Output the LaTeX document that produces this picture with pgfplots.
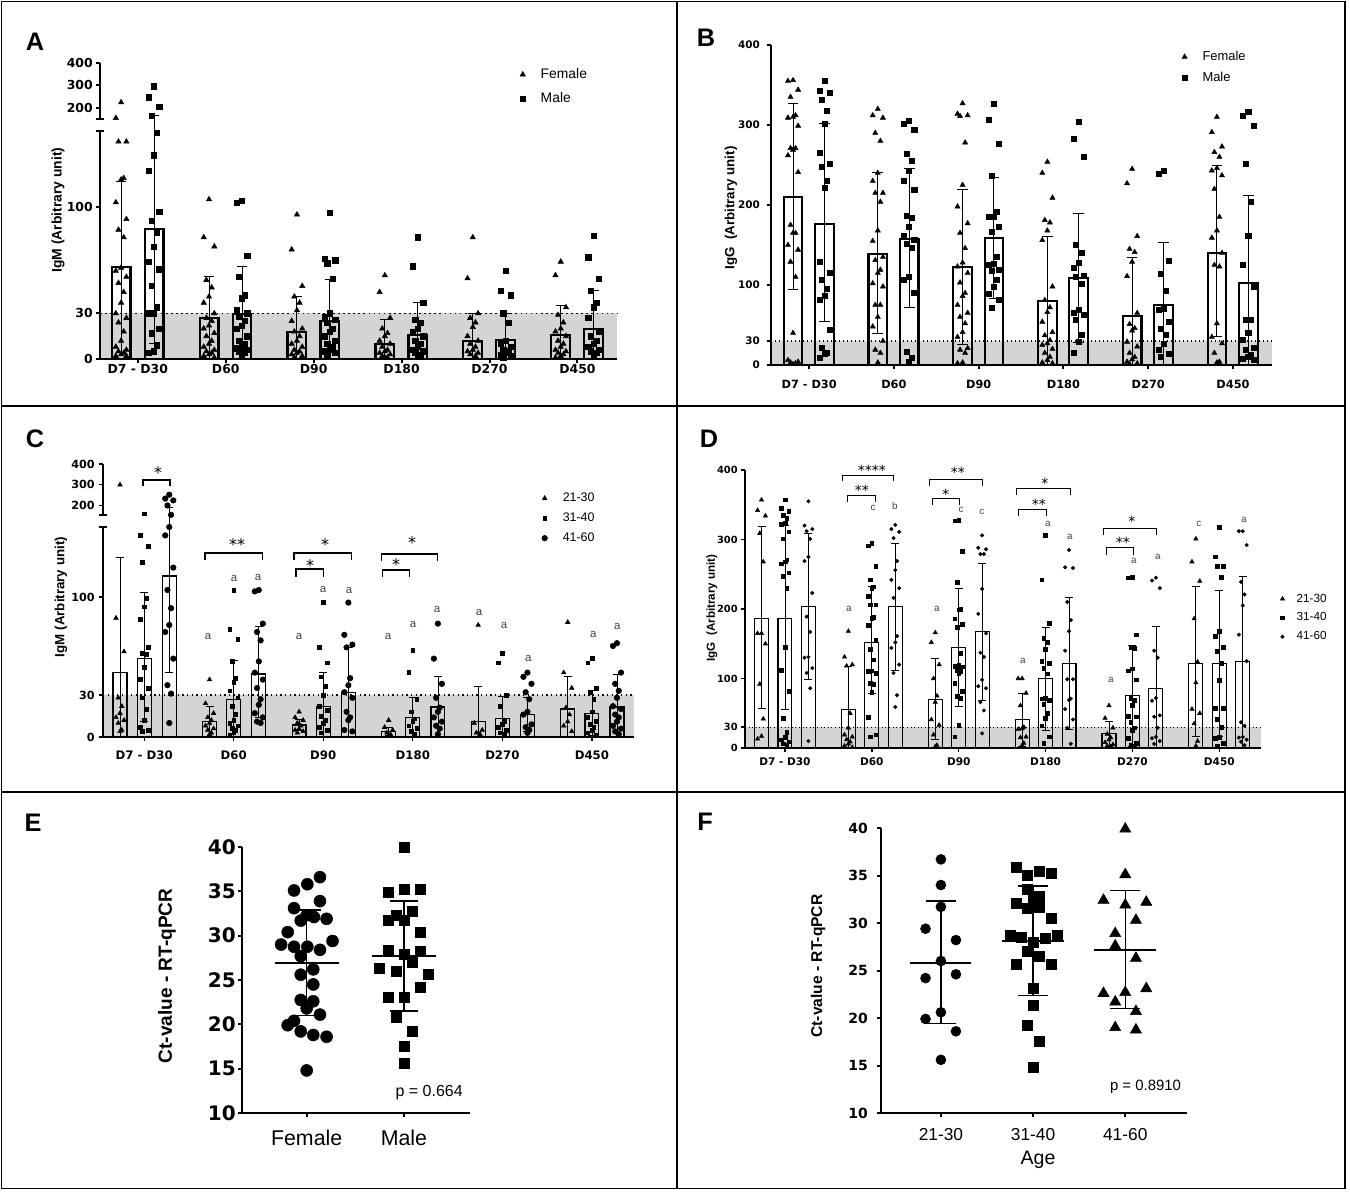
\documentclass[border=0pt]{standalone}
\usepackage{fontspec}
\setmainfont{Liberation Sans}
\newfontfamily\dv{DejaVu Sans}
\usepackage{pgfplots}
\pgfplotsset{compat=1.18}
\definecolor{bandgray}{RGB}{212,212,212}
\newcommand\fs[1]{\fontsize{#1}{#1}\selectfont}
\pgfplotsset{
  base/.style={scale only axis, clip=false, axis on top,
    axis x line=bottom, axis y line=left,
    axis line style={-}, every outer x axis line/.append style={-}, every outer y axis line/.append style={-},
    tick align=outside, major tick length=3pt,
    xticklabel style={anchor=north, inner sep=0pt},
    yticklabel style={anchor=east, inner sep=0pt},
    legend cell align=left,
    legend image code/.code={\draw[##1] plot coordinates {(0pt,0pt)};},
  },
  tri/.style={only marks, mark=triangle*, black, mark options={solid}},
  sqr/.style={only marks, mark=square*, black, mark options={solid}},
  cir/.style={only marks, mark=*, black, mark options={solid}},
  eb/.style 2 args={error bars/.cd, y dir=both, y explicit, error bar style={line width=#1}, error mark options={rotate=90, line width=#1, mark size=#2}},
}
\begin{document}
\begin{tikzpicture}[x=0.75pt,y=-0.75pt]
\useasboundingbox (0,0) rectangle (1350,1192);
\draw[line width=1.1pt] (1.5,1.5) rectangle (1345,1188.5);
\draw[line width=1.1pt] (677,1.5) -- (677,1188.5);
\draw[line width=1.1pt] (1.5,406) -- (1345,406);
\draw[line width=1.1pt] (1.5,792) -- (1345,792);

% ================= A =================
\begin{axis}[base, at={(75pt,-269.25pt)}, anchor=south west, width=387.75pt, height=222.3pt,
  xmin=-0.43, xmax=5.45, ymin=0, ymax=195,
  axis line style={line width=1.5pt}, y axis line style={draw=none},
  tick style={black, line width=1.5pt},
  xtick={0,1,2,3,4,5}, xticklabels={D7 - D30,D60,D90,D180,D270,D450},
  ytick={0,30,100,165.4,180.2,195}, yticklabels={0,30,100,200,300,400},
  tick label style={font=\dv\bfseries\fs{9.3}},
  xticklabel style={yshift=-1pt}, yticklabel style={xshift=-2.3pt},
  legend style={at={(axis description cs:0.812,0.99)}, anchor=north west, draw=none, fill=none, inner sep=0pt,
    font=\fs{10.4}, row sep=5pt, column sep=9.5pt},
]
\fill[bandgray] (-0.43,0) rectangle (5.45,30);
\draw[line width=1.3pt, dash pattern=on 1.3pt off 2.5pt] (-0.43,30) -- (5.45,30);
\draw[line width=1.5pt] (-0.43,0) -- (-0.43,150);
\draw[line width=1.5pt] (-0.43,158) -- (-0.43,195);
\draw[line width=1.5pt] (-0.475,150) -- (-0.385,150);
\draw[line width=1.5pt] (-0.475,158) -- (-0.385,158);
\addplot[ybar, bar width=0.214, bar shift=0pt, draw=black, fill=none, line width=1.6pt, forget plot, eb={0.75pt}{3.75pt}]
  coordinates {(-0.19,60.5) +=(0,56.5) -=(0,56.5) (0.81,27) +=(0,27.6) -=(0,27) (1.81,17.8) +=(0,23.2) -=(0,17.8) (2.81,10) +=(0,16) -=(0,10) (3.81,12) +=(0,18) -=(0,12) (4.81,16) +=(0,19) -=(0,16)};
\addplot[ybar, bar width=0.214, bar shift=0pt, draw=black, fill=none, line width=1.6pt, forget plot, eb={0.75pt}{3.75pt}]
  coordinates {(0.185,85.5) +=(0,75) -=(0,75) (1.185,29.6) +=(0,31.4) -=(0,29.6) (2.185,25) +=(0,27.6) -=(0,25) (3.185,16) +=(0,21) -=(0,16) (4.185,12.5) +=(0,17.5) -=(0,12.5) (5.185,20) +=(0,25) -=(0,20)};
\addplot[tri, mark size=2.3pt, forget plot] coordinates {
(-0.19,168.8)(-0.25,158.5)(-0.13,143)(-0.22,143)(-0.16,119)(-0.19,118)(-0.25,103)(-0.13,92)(-0.22,85)(-0.16,80)(-0.19,60)(-0.25,58)(-0.13,54)(-0.22,50)(-0.16,44)(-0.19,37)(-0.25,30)(-0.13,27)(-0.22,24)(-0.16,18)(-0.19,12)(-0.25,8)(-0.13,6)(-0.22,5)(-0.16,4)(-0.19,3)(-0.25,2)(-0.13,2)
(0.81,105)(0.75,80)(0.87,74)(0.78,52)(0.84,47)(0.81,41)(0.75,37)(0.87,30)(0.78,27)(0.84,25)(0.81,22)(0.75,20)(0.87,17)(0.78,15)(0.84,12)(0.81,10)(0.75,8)(0.87,6)(0.78,5)(0.84,4)(0.81,3)(0.75,2)(0.87,1)
(1.81,95)(1.75,72)(1.87,48)(1.78,41)(1.84,37)(1.81,32)(1.75,25)(1.87,20)(1.78,18)(1.84,15)(1.81,12)(1.75,10)(1.87,8)(1.78,6)(1.84,5)(1.81,4)(1.75,3)(1.87,2)(1.78,1)
(2.81,55)(2.75,44)(2.87,27)(2.78,20)(2.84,17)(2.81,15)(2.75,12)(2.87,10)(2.78,8)(2.84,6)(2.81,5)(2.75,4)(2.87,3)(2.78,2)(2.84,1)(2.81,1)
(3.81,80)(3.75,53)(3.87,30)(3.78,27)(3.84,24)(3.81,21)(3.75,15)(3.87,12)(3.78,10)(3.84,8)(3.81,6)(3.75,5)(3.87,4)(3.78,3)(3.84,2)
(4.81,64)(4.75,55)(4.87,34)(4.78,29)(4.84,24)(4.81,20)(4.75,18)(4.87,15)(4.78,12)(4.84,10)(4.81,8)(4.75,6)(4.87,5)(4.78,4)(4.84,3)(4.81,2)(4.75,1)};
\addplot[sqr, mark size=2pt, forget plot] coordinates {
(0.185,179.5)(0.125,172.1)(0.245,166.1)(0.155,160.1)(0.215,149)(0.185,134)(0.125,124)(0.245,97)(0.155,91)(0.215,83)(0.185,74)(0.125,64)(0.245,59)(0.155,48)(0.215,34)(0.185,30)(0.125,30)(0.245,20)(0.155,17)(0.215,9)(0.185,5)(0.125,4)
(1.185,104)(1.125,103)(1.245,68)(1.155,54)(1.215,42)(1.185,40)(1.125,32)(1.245,30)(1.155,28)(1.215,25)(1.185,22)(1.125,20)(1.245,15)(1.155,12)(1.215,10)(1.185,8)(1.125,7)(1.245,6)(1.155,5)(1.215,4)(1.185,3)
(2.185,96)(2.125,66)(2.245,65)(2.155,63)(2.215,53)(2.185,30)(2.125,28)(2.245,26)(2.155,24)(2.215,20)(2.185,18)(2.125,15)(2.245,12)(2.155,10)(2.215,8)(2.185,6)(2.125,5)(2.245,4)(2.155,3)
(3.185,80)(3.125,61)(3.245,37)(3.155,26)(3.215,24)(3.185,20)(3.125,18)(3.245,15)(3.155,12)(3.215,10)(3.185,8)(3.125,6)(3.245,5)(3.155,4)(3.215,3)(3.185,2)
(4.185,58)(4.125,45)(4.245,42)(4.155,30)(4.215,24)(4.185,12)(4.125,10)(4.245,8)(4.155,6)(4.215,5)(4.185,4)(4.125,3)(4.245,2)(4.155,1)
(5.185,81)(5.125,67)(5.245,53)(5.155,45)(5.215,37)(5.185,34)(5.125,27)(5.245,18)(5.155,15)(5.215,12)(5.185,10)(5.125,8)(5.245,6)(5.155,5)(5.215,4)(5.185,3)};
\addlegendimage{tri, mark size=2.3pt}\addlegendentry{Female}
\addlegendimage{sqr, mark size=2pt}\addlegendentry{Male}
\end{axis}

% ================= B =================
\begin{axis}[base, at={(578.25pt,-273.75pt)}, anchor=south west, width=375.75pt, height=240pt,
  xmin=-0.45, xmax=5.46, ymin=0, ymax=400,
  axis line style={line width=1.5pt}, tick style={black, line width=1.5pt},
  xtick={0,1,2,3,4,5}, xticklabels={D7 - D30,D60,D90,D180,D270,D450},
  ytick={0,30,100,200,300,400}, yticklabels={0,30,100,200,300,400},
  xticklabel style={font=\dv\bfseries\fs{8.5}, yshift=-8pt},
  yticklabel style={font=\dv\bfseries\fs{7.8}, xshift=-5.25pt},
  legend style={at={(axis description cs:0.82,0.99)}, anchor=north west, draw=none, fill=none, inner sep=0pt,
    font=\fs{9.7}, row sep=3pt, column sep=9.5pt},
]
\fill[bandgray] (-0.45,0) rectangle (5.46,30);
\draw[line width=0.8pt, dash pattern=on 0.8pt off 2.2pt] (-0.45,30) -- (5.46,30);
\addplot[ybar, bar width=0.22, bar shift=0pt, draw=black, fill=none, line width=1.6pt, forget plot, eb={0.75pt}{4pt}]
  coordinates {(-0.19,210)+=(0,117)-=(0,115) (0.81,139)+=(0,102)-=(0,100) (1.81,122)+=(0,98)-=(0,96) (2.81,80)+=(0,81)-=(0,80) (3.81,61)+=(0,73)-=(0,61) (4.81,140)+=(0,109)-=(0,104)};
\addplot[ybar, bar width=0.22, bar shift=0pt, draw=black, fill=none, line width=1.6pt, forget plot, eb={0.75pt}{4pt}]
  coordinates {(0.18,176)+=(0,126)-=(0,122) (1.18,158)+=(0,88)-=(0,86) (2.18,159)+=(0,76)-=(0,76) (3.18,109)+=(0,81)-=(0,81) (4.18,75)+=(0,78)-=(0,75) (5.18,102)+=(0,110)-=(0,102)};
\addplot[tri, mark size=2.2pt, forget plot] coordinates {
(-0.19,356)(-0.25,355)(-0.13,344)(-0.22,335)(-0.16,312)(-0.19,310)(-0.25,309)(-0.13,299)(-0.22,271)(-0.16,271)(-0.19,269)(-0.25,262)(-0.13,241)(-0.22,175)(-0.16,165)(-0.19,165)(-0.25,150)(-0.13,144)(-0.22,129)(-0.16,110)(-0.19,40)(-0.25,6)(-0.13,4)(-0.22,3)(-0.16,2)(-0.19,1)
(0.81,320)(0.75,312)(0.87,309)(0.78,290)(0.84,280)(0.81,240)(0.75,230)(0.87,215)(0.78,215)(0.84,204)(0.81,168)(0.75,155)(0.87,135)(0.78,131)(0.84,119)(0.81,115)(0.75,102)(0.87,98)(0.78,75)(0.84,75)(0.81,60)(0.75,48)(0.87,30)(0.78,19)(0.84,15)(0.81,3)
(1.81,327)(1.75,314)(1.87,312)(1.78,311)(1.84,278)(1.81,225)(1.75,198)(1.87,177)(1.78,165)(1.84,146)(1.81,128)(1.75,123)(1.87,115)(1.78,103)(1.84,90)(1.81,86)(1.75,75)(1.87,65)(1.78,60)(1.84,52)(1.81,41)(1.75,35)(1.87,21)(1.78,19)(1.84,15)(1.81,3)(1.75,2)
(2.81,254)(2.75,240)(2.87,209)(2.78,181)(2.84,178)(2.81,168)(2.75,156)(2.87,98)(2.78,81)(2.84,72)(2.81,66)(2.75,54)(2.87,41)(2.78,37)(2.84,31)(2.81,27)(2.75,25)(2.87,20)(2.78,15)(2.84,10)(2.81,6)(2.75,3)(2.87,2)
(3.81,245)(3.75,227)(3.87,161)(3.78,145)(3.84,141)(3.81,129)(3.75,111)(3.87,65)(3.78,51)(3.84,46)(3.81,43)(3.75,29)(3.87,23)(3.78,15)(3.84,10)(3.81,7)(3.75,4)(3.87,2)(3.78,1)
(4.81,310)(4.75,291)(4.87,273)(4.78,266)(4.84,260)(4.81,246)(4.75,243)(4.87,237)(4.78,220)(4.84,185)(4.81,168)(4.75,159)(4.87,140)(4.78,125)(4.84,123)(4.81,52)(4.75,35)(4.87,27)(4.78,15)(4.84,4)(4.81,3)};
\addplot[sqr, mark size=1.9pt, forget plot] coordinates {
(0.18,355)(0.12,343)(0.24,340)(0.15,331)(0.21,318)(0.18,301)(0.12,265)(0.24,251)(0.15,248)(0.21,230)(0.18,222)(0.12,129)(0.24,115)(0.15,107)(0.21,95)(0.18,86)(0.12,82)(0.24,44)(0.15,22)(0.21,15)(0.18,14)(0.12,9)
(1.18,305)(1.12,301)(1.24,294)(1.15,264)(1.21,255)(1.18,243)(1.12,230)(1.24,219)(1.15,186)(1.21,184)(1.18,173)(1.12,162)(1.24,156)(1.15,152)(1.21,147)(1.18,110)(1.12,106)(1.24,90)(1.15,16)(1.21,9)(1.18,4)
(2.18,326)(2.12,306)(2.24,276)(2.15,237)(2.21,191)(2.18,185)(2.12,185)(2.24,173)(2.15,166)(2.21,135)(2.18,127)(2.12,125)(2.24,119)(2.15,118)(2.21,107)(2.18,98)(2.12,89)(2.24,81)(2.15,72)
(3.18,304)(3.12,283)(3.24,260)(3.15,150)(3.21,140)(3.18,128)(3.12,121)(3.24,112)(3.15,110)(3.21,102)(3.18,69)(3.12,65)(3.24,63)(3.15,56)(3.21,38)(3.18,29)(3.12,15)
(4.18,243)(4.12,239)(4.24,130)(4.15,114)(4.21,93)(4.18,70)(4.12,69)(4.24,54)(4.15,45)(4.21,38)(4.18,27)(4.12,19)(4.24,14)(4.15,10)
(5.18,316)(5.12,311)(5.24,299)(5.15,251)(5.21,204)(5.18,162)(5.12,125)(5.24,98)(5.15,57)(5.21,57)(5.18,40)(5.12,31)(5.24,21)(5.15,19)(5.21,13)(5.18,10)(5.12,8)(5.24,6)};
\addlegendimage{tri, mark size=2.2pt}\addlegendentry{Female}
\addlegendimage{sqr, mark size=1.9pt}\addlegendentry{Male}
\end{axis}

% ================= C =================
\begin{axis}[base, at={(77.25pt,-552.75pt)}, anchor=south west, width=398.25pt, height=204.75pt,
  xmin=-0.46, xmax=5.47, ymin=0, ymax=195,
  axis line style={line width=1pt}, y axis line style={draw=none},
  tick style={black, line width=1pt},
  xtick={0,1,2,3,4,5}, xticklabels={D7 - D30,D60,D90,D180,D270,D450},
  ytick={0,30,100,165.4,180.2,195}, yticklabels={0,30,100,200,300,400},
  xticklabel style={font=\dv\bfseries\fs{8.8}, yshift=-7pt},
  yticklabel style={font=\dv\bfseries\fs{8.4}, xshift=-3pt},
  legend style={at={(axis description cs:0.826,0.905)}, anchor=north west, draw=none, fill=none, inner sep=0pt,
    font=\fs{9.3}, row sep=3pt, column sep=9.5pt},
]
\fill[bandgray] (-0.46,0) rectangle (5.47,30);
\draw[line width=1pt, dash pattern=on 1pt off 2.5pt] (-0.46,30) -- (5.47,30);
\draw[line width=1pt] (-0.46,0) -- (-0.46,150);
\draw[line width=1pt] (-0.46,158.5) -- (-0.46,195);
\draw[line width=1pt] (-0.505,150) -- (-0.415,150);
\draw[line width=1pt] (-0.505,158.5) -- (-0.415,158.5);
\addplot[ybar, bar width=0.155, bar shift=0pt, draw=black, fill=none, line width=0.9pt, forget plot, eb={0.6pt}{3pt}]
  coordinates {(-0.27,46)+=(0,82)-=(0,46) (0.73,11)+=(0,11)-=(0,11) (1.73,8.6)+=(0,4)-=(0,4) (2.73,4)+=(0,3)-=(0,3) (3.73,11)+=(0,25)-=(0,11) (4.73,20)+=(0,23)-=(0,20)};
\addplot[ybar, bar width=0.155, bar shift=0pt, draw=black, fill=none, line width=0.9pt, forget plot, eb={0.6pt}{3pt}]
  coordinates {(0,56)+=(0,47)-=(0,45) (1,27)+=(0,28)-=(0,27) (2,22)+=(0,24)-=(0,22) (3,14)+=(0,14)-=(0,14) (4,13)+=(0,16)-=(0,13) (5,17)+=(0,16)-=(0,16)};
\addplot[ybar, bar width=0.155, bar shift=0pt, draw=black, fill=none, line width=0.9pt, forget plot, eb={0.6pt}{3pt}]
  coordinates {(0.28,115)+=(0,49.3)-=(0,69) (1.28,45)+=(0,34)-=(0,31) (2.28,32)+=(0,32)-=(0,32) (3.28,21.5)+=(0,21.5)-=(0,21.5) (4.28,16)+=(0,12)-=(0,12) (5.28,21.5)+=(0,23.5)-=(0,21.5)};
\addplot[tri, mark size=1.95pt, forget plot] coordinates {
(-0.27,180.2)(-0.315,85)(-0.225,61)(-0.29,28)(-0.25,22)(-0.27,17)(-0.315,14)(-0.225,12)(-0.29,10)(-0.25,5)(-0.27,4)
(0.73,41)(0.685,24)(0.775,17)(0.71,14)(0.75,12)(0.73,10)(0.685,8)(0.775,6)(0.71,5)(0.75,3)(0.73,2)
(1.73,18)(1.685,14)(1.775,12)(1.71,10)(1.75,8)(1.73,6)(1.685,5)(1.775,4)(1.71,3)
(2.73,12)(2.685,7)(2.775,5)(2.71,3)(2.75,2)(2.73,1)
(3.73,80)(3.685,10)(3.775,5)(3.71,3)(3.75,2)
(4.73,82)(4.685,46)(4.775,35)(4.71,21)(4.75,16)(4.73,11)(4.685,8)(4.775,4)};
\addplot[sqr, mark size=1.4pt, forget plot] coordinates {
(0,159.5)(-0.045,144)(0.045,136)(-0.02,125)(0.02,99)(0,93)(-0.045,84)(0.045,64)(-0.02,60)(0.02,59)(0,50)(-0.045,41)(0.045,35)(-0.02,28)(0.02,20)(0,12)(-0.045,7)(0.045,5)(-0.02,4)
(1,105)(0.955,77)(1.045,70)(0.98,54)(1.02,42)(1,39)(0.955,33)(1.045,28)(0.98,22)(1.02,16)(1,12)(0.955,10)(1.045,8)(0.98,6)(1.02,5)(1,3)(0.955,1)
(2,96)(1.955,64)(2.045,53)(1.98,43)(2.02,36)(2,30)(1.955,22)(2.045,19)(1.98,15)(2.02,12)(2,10)(1.955,7)(2.045,5)(1.98,3)
(3,62)(2.955,46)(3.045,27)(2.98,18)(3.02,13)(3,11)(2.955,8)(3.045,6)(2.98,4)(3.02,2)
(4,60)(3.955,53)(4.045,30)(3.98,22)(4.02,11)(4,9)(3.955,7)(4.045,5)(3.98,3)(4.02,2)
(5,56)(4.955,53)(5.045,35)(4.98,32)(5.02,27)(5,18)(4.955,14)(5.045,11)(4.98,9)(5.02,7)(5,5)(4.955,3)(5.045,1)};
\addplot[cir, mark size=2.1pt, forget plot] coordinates {
(0.28,173.1)(0.235,170.3)(0.325,169)(0.26,165.4)(0.30,158.7)(0.28,150)(0.235,144)(0.325,121)(0.26,105)(0.30,92)(0.28,80)(0.235,75)(0.325,56)(0.26,37)(0.30,31)(0.28,10)
(1.28,105)(1.235,104)(1.325,81)(1.26,75)(1.30,69)(1.28,54)(1.235,46)(1.325,41)(1.26,35)(1.30,27)(1.28,23)(1.235,17)(1.325,14)(1.26,11)(1.30,10)
(2.28,96)(2.235,73)(2.325,66)(2.26,64)(2.30,42)(2.28,37)(2.235,32)(2.325,28)(2.26,18)(2.30,14)(2.28,12)(2.235,5)(2.325,4)
(3.28,81)(3.235,56)(3.325,38)(3.26,28)(3.30,21)(3.28,18)(3.235,14)(3.325,11)(3.26,8)(3.30,6)(3.28,2)
(4.28,46)(4.235,43)(4.325,38)(4.26,32)(4.30,27)(4.28,18)(4.235,16)(4.325,9)(4.26,7)(4.30,5)(4.28,3)
(5.28,67)(5.235,65)(5.325,46)(5.26,38)(5.30,33)(5.28,28)(5.235,22)(5.325,20)(5.26,16)(5.30,14)(5.28,11)(5.235,8)(5.325,6)(5.26,4)(5.30,2)};
\addlegendimage{tri, mark size=1.95pt}\addlegendentry{21-30}
\addlegendimage{sqr, mark size=1.4pt}\addlegendentry{31-40}
\addlegendimage{cir, mark size=2.1pt}\addlegendentry{41-60}
\draw[line width=0.9pt] (-0.013,179.3) -- (-0.013,183.6) -- (0.289,183.6) -- (0.289,179.3);
\draw[line width=0.9pt] (0.68,126.4) -- (0.68,131.4) -- (1.317,131.4) -- (1.317,126.4);
\draw[line width=0.9pt] (1.674,126.4) -- (1.674,131.4) -- (2.311,131.4) -- (2.311,126.4);
\draw[line width=0.9pt] (1.696,114.3) -- (1.696,120) -- (1.998,120) -- (1.998,114.3);
\draw[line width=0.9pt] (2.646,125.7) -- (2.646,130.7) -- (3.272,130.7) -- (3.272,125.7);
\draw[line width=0.9pt] (2.657,114.3) -- (2.657,119.3) -- (2.959,119.3) -- (2.959,114.3);
\begin{scope}[every node/.style={inner sep=0pt, anchor=base, font=\dv\fs{12}}]
\node at (0.155,184.4) {*};
\node at (1.037,133) {**};
\node at (2.02,133) {*};
\node at (1.853,118) {*};
\node at (2.992,134.4) {*};
\node at (2.814,118.7) {*};
\end{scope}
\begin{scope}[every node/.style={inner sep=0pt, anchor=center, font=\fs{8.6}, text=black!75}]
\node at (0.713,72.1) {a}; \node at (1.004,112.9) {a}; \node at (1.272,114.3) {a};
\node at (1.73,72.1) {a}; \node at (1.998,105.7) {a}; \node at (2.289,105) {a};
\node at (2.724,72.1) {a}; \node at (3.004,80.7) {a}; \node at (3.272,91.4) {a};
\node at (3.741,89.3) {a}; \node at (4.02,80) {a}; \node at (4.289,56.4) {a};
\node at (5.015,72.9) {a}; \node at (5.283,79.3) {a};
\end{scope}
\end{axis}

% ================= D =================
\begin{axis}[base, at={(558.75pt,-561pt)}, anchor=south west, width=387pt, height=208.5pt,
  xmin=-0.46, xmax=5.48, ymin=0, ymax=400,
  axis line style={line width=1pt}, tick style={black, line width=1pt},
  xtick={0,1,2,3,4,5}, xticklabels={D7 - D30,D60,D90,D180,D270,D450},
  ytick={0,30,100,200,300,400}, yticklabels={0,30,100,200,300,400},
  xticklabel style={font=\dv\bfseries\fs{7.9}, yshift=-4pt},
  yticklabel style={font=\dv\bfseries\fs{7.4}, xshift=-2.3pt},
  legend style={at={(axis description cs:1.037,0.565)}, anchor=north west, draw=none, fill=none, inner sep=0pt,
    font=\fs{8.8}, row sep=2.5pt, column sep=7pt},
]
\fill[bandgray] (-0.46,0) rectangle (5.48,30);
\draw[line width=0.7pt, dash pattern=on 0.7pt off 2pt] (-0.46,30) -- (5.48,30);
\addplot[ybar, bar width=0.161, bar shift=0pt, draw=black, fill=none, line width=0.8pt, forget plot, eb={0.6pt}{3pt}]
  coordinates {(-0.27,187)+=(0,132)-=(0,130) (0.73,56)+=(0,61)-=(0,56) (1.73,70)+=(0,59)-=(0,57) (2.73,41)+=(0,38)-=(0,38) (3.73,21)+=(0,18)-=(0,18) (4.73,122)+=(0,110)-=(0,106)};
\addplot[ybar, bar width=0.161, bar shift=0pt, draw=black, fill=none, line width=0.8pt, forget plot, eb={0.6pt}{3pt}]
  coordinates {(0,187)+=(0,134)-=(0,131) (1,152)+=(0,81)-=(0,73) (2,145)+=(0,85)-=(0,85) (3,100)+=(0,74)-=(0,74) (4,75)+=(0,72)-=(0,72) (5,122)+=(0,105)-=(0,105)};
\addplot[ybar, bar width=0.161, bar shift=0pt, draw=black, fill=none, line width=0.8pt, forget plot, eb={0.6pt}{3pt}]
  coordinates {(0.27,204)+=(0,105)-=(0,105) (1.27,203)+=(0,92)-=(0,92) (2.27,167)+=(0,99)-=(0,99) (3.27,122)+=(0,95)-=(0,95) (4.27,86)+=(0,89)-=(0,86) (5.27,124)+=(0,123)-=(0,124)};
\addplot[tri, mark size=1.85pt, forget plot] coordinates {
(-0.27,357)(-0.315,342)(-0.225,334)(-0.29,309)(-0.25,268)(-0.27,165)(-0.315,165)(-0.225,150)(-0.29,92)(-0.25,42)(-0.27,17)(-0.315,13)
(0.73,168)(0.685,131)(0.775,120)(0.71,118)(0.75,50)(0.73,29)(0.685,19)(0.775,16)(0.71,12)(0.75,9)(0.73,6)(0.685,3)(0.775,1)
(1.73,166)(1.685,152)(1.775,120)(1.71,100)(1.75,75)(1.73,66)(1.685,41)(1.775,33)(1.71,19)(1.75,4)(1.73,2)
(2.73,100)(2.685,100)(2.775,79)(2.71,61)(2.75,30)(2.73,28)(2.685,27)(2.775,16)(2.71,15)(2.75,7)(2.73,4)
(3.73,61)(3.685,43)(3.775,29)(3.71,20)(3.75,15)(3.73,12)(3.685,8)(3.775,5)(3.71,3)(3.75,2)
(4.73,301)(4.685,268)(4.775,240)(4.71,186)(4.75,124)(4.73,94)(4.685,56)(4.775,50)(4.71,35)(4.75,10)(4.73,3)};
\addplot[sqr, mark size=1.4pt, forget plot] coordinates {
(0,357)(-0.045,345)(0.045,341)(-0.02,335)(0.02,331)(0,324)(-0.045,322)(0.045,311)(-0.02,301)(0.02,271)(0,268)(-0.045,265)(0.045,252)(-0.02,247)(0.02,230)(0,145)(-0.045,112)(0.045,82)(-0.02,43)(0.02,23)(0,15)(-0.045,12)(0.045,9)(-0.02,6)(0.02,4)
(1,295)(0.955,291)(1.045,262)(0.98,242)(1.02,232)(1,230)(0.955,218)(1.045,206)(0.98,206)(1.02,188)(1,187)(0.955,177)(1.045,155)(0.98,142)(1.02,127)(1,111)(0.955,110)(1.045,108)(0.98,93)(1.02,92)(1,80)(0.955,44)(1.045,19)(0.98,16)
(2,328)(1.955,327)(2.045,283)(1.98,238)(2.02,200)(2,199)(1.955,186)(2.045,178)(1.98,174)(2.02,136)(2,119)(1.955,118)(2.045,117)(1.98,112)(2.02,110)(2,108)(1.955,93)(2.045,82)(1.98,74)(2.02,72)(2,33)(1.955,16)
(3,306)(2.955,242)(3.045,180)(2.98,158)(3.02,152)(3,142)(2.955,125)(3.045,122)(2.98,115)(3.02,107)(3,72)(2.955,71)(3.045,69)(2.98,63)(3.02,50)(3,43)(2.955,32)(3.045,16)(2.98,7)
(4,246)(3.955,245)(4.045,163)(3.98,145)(4.02,144)(4,114)(3.955,111)(4.045,98)(3.98,72)(4.02,69)(4,62)(3.955,46)(4.045,45)(3.98,37)(4.02,29)(4,26)(3.955,14)(4.045,7)(3.98,4)(4.02,2)
(5,318)(4.955,275)(5.045,262)(4.98,261)(5.02,246)(5,168)(4.955,161)(5.045,145)(4.98,139)(5.02,122)(5,97)(4.955,57)(5.045,57)(4.98,41)(5.02,30)(5,15)(4.955,14)(5.045,7)(4.98,3)};
\addplot[cir, mark size=1.3pt, forget plot] coordinates {
(0.27,355)(0.225,320)(0.315,315)(0.25,312)(0.29,301)(0.27,275)(0.225,269)(0.315,223)(0.25,189)(0.29,167)(0.27,131)(0.225,130)(0.315,115)(0.25,108)(0.29,86)(0.27,10)
(1.27,321)(1.225,315)(1.315,311)(1.25,302)(1.29,269)(1.27,256)(1.225,242)(1.315,230)(1.25,216)(1.29,161)(1.27,152)(1.225,144)(1.315,120)(1.25,108)(1.29,76)(1.27,59)
(2.27,306)(2.225,288)(2.315,286)(2.25,279)(2.29,279)(2.27,229)(2.225,193)(2.315,165)(2.25,137)(2.29,131)(2.27,98)(2.225,89)(2.315,86)(2.25,66)(2.29,54)(2.27,21)
(3.27,285)(3.225,260)(3.315,259)(3.25,210)(3.29,184)(3.27,168)(3.225,140)(3.315,99)(3.25,99)(3.29,71)(3.27,69)(3.225,56)(3.315,41)(3.25,29)(3.29,6)
(4.27,245)(4.225,241)(4.315,230)(4.25,140)(4.29,130)(4.27,72)(4.225,68)(4.315,47)(4.25,45)(4.29,29)(4.27,16)(4.225,14)(4.315,10)(4.25,6)
(5.27,312)(5.225,312)(5.315,292)(5.25,239)(5.29,221)(5.27,205)(5.225,163)(5.315,125)(5.25,37)(5.29,32)(5.27,16)(5.225,15)(5.315,12)(5.25,9)(5.29,4)};
\addlegendimage{tri, mark size=1.85pt}\addlegendentry{21-30}
\addlegendimage{sqr, mark size=1.4pt}\addlegendentry{31-40}
\addlegendimage{cir, mark size=1.3pt}\addlegendentry{41-60}
\draw[line width=0.75pt] (0.668,384.2) -- (0.668,392.8) -- (1.255,392.8) -- (1.255,384.2);
\draw[line width=0.75pt] (0.725,354) -- (0.725,364) -- (1.047,364) -- (1.047,354);
\draw[line width=0.75pt] (1.669,377) -- (1.669,387) -- (2.279,387) -- (2.279,377);
\draw[line width=0.75pt] (1.703,349.6) -- (1.703,359.7) -- (2.014,359.7) -- (2.014,349.6);
\draw[line width=0.75pt] (2.67,364) -- (2.67,374) -- (3.291,374) -- (3.291,364);
\draw[line width=0.75pt] (2.693,333.8) -- (2.693,343.9) -- (3.015,343.9) -- (3.015,333.8);
\draw[line width=0.75pt] (3.671,306.5) -- (3.671,316.5) -- (4.281,316.5) -- (4.281,306.5);
\draw[line width=0.75pt] (3.706,277.7) -- (3.706,287.8) -- (4.016,287.8) -- (4.016,277.7);
\begin{scope}[every node/.style={inner sep=0pt, anchor=base, font=\dv\fs{10.5}}]
\node at (1.001,391.8) {****};
\node at (0.886,362.9) {**};
\node at (1.991,388.9) {**};
\node at (1.853,357.2) {*};
\node at (2.992,372.9) {*};
\node at (2.923,342.9) {**};
\node at (3.993,318.4) {*};
\node at (3.89,288.2) {**};
\end{scope}
\begin{scope}[every node/.style={inner sep=0pt, anchor=center, font=\fs{7.4}, text=black!75}]
\node at (0.737,200) {a}; \node at (1.013,345.3) {c}; \node at (1.266,348.2) {b};
\node at (1.749,200) {a}; \node at (2.026,342.4) {c}; \node at (2.267,339.6) {c};
\node at (2.739,125.2) {a}; \node at (3.027,322.3) {a}; \node at (3.28,303.6) {a};
\node at (3.752,97.8) {a}; \node at (4.016,269) {a}; \node at (4.293,274.8) {a};
\node at (4.764,322.3) {c}; \node at (5.282,328) {a};
\end{scope}
\end{axis}

% ================= E =================
\begin{axis}[base, at={(181.5pt,-834.75pt)}, anchor=south west, width=171pt, height=199.5pt,
  xmin=-0.665, xmax=1.68, ymin=10, ymax=40,
  axis line style={line width=1.6pt}, tick style={black, line width=1.6pt},
  xtick={0,1}, xticklabels={Female,Male},
  ytick={10,15,20,25,30,35,40}, yticklabels={10,15,20,25,30,35,40},
  xticklabel style={font=\fs{16}, yshift=-9.75pt},
  yticklabel style={font=\dv\bfseries\fs{15}, xshift=-1.5pt},
]
\addplot[cir, mark size=4.5pt, forget plot] coordinates {
(0.137,36.6)(0.007,35.8)(-0.13,35.1)(0.137,33.9)(-0.13,33.1)(0.075,32.1)(-0.061,31.7)(0.0,32.3)(0.205,31.9)(-0.195,30.4)(0.266,29.4)(-0.263,29.0)(-0.13,28.75)(0.007,28.75)(0.137,28.4)(-0.061,27.7)(0.068,26.2)(-0.061,25.6)(0.068,24.5)(-0.061,22.75)(0.068,22.6)(0.0,21.8)(0.137,21.1)(-0.13,20.4)(-0.195,19.9)(-0.061,19.2)(0.068,18.8)(0.205,18.6)(0.0,14.8)};
\addplot[sqr, mark size=3.75pt, forget plot] coordinates {
(1,40)(0.836,34.9)(1,35.2)(1.167,35.2)(1.085,32.8)(0.922,32.3)(0.836,31.7)(1,31.7)(1.167,30.4)(0.836,28.3)(1.167,28.2)(1,27.9)(1.085,27.0)(0.751,26.3)(0.922,26.0)(1.253,25.6)(1.167,24.2)(0.836,23.05)(1,23.05)(0.922,20.8)(1.085,19.2)(1,17.5)(1,15.6)};
\addplot[black, line width=1.5pt, forget plot] coordinates {(-0.33,26.9) (0.33,26.9)};
\addplot[black, line width=1.5pt, forget plot] coordinates {(0.67,27.7) (1.33,27.7)};
\addplot[black, mark=none, forget plot, eb={1pt}{10.5pt}] coordinates {(0,26.9) +=(0,6.0) -=(0,5.9)};
\addplot[black, mark=none, forget plot, eb={1pt}{10.5pt}] coordinates {(1,27.7) +=(0,6.2) -=(0,6.2)};
\node[font=\fs{12}, inner sep=0pt] at (axis cs:1.26,12.35) {p = 0.664};
\end{axis}

% ================= F =================
\begin{axis}[base, at={(660.75pt,-834.75pt)}, anchor=south west, width=229.5pt, height=213.75pt,
  xmin=-0.65, xmax=2.67, ymin=10, ymax=40,
  axis line style={line width=1.5pt}, tick style={black, line width=1.5pt},
  xtick={0,1,2}, xticklabels={21-30,31-40,41-60},
  ytick={10,15,20,25,30,35,40}, yticklabels={10,15,20,25,30,35,40},
  xticklabel style={font=\fs{13}, yshift=-8pt},
  yticklabel style={font=\dv\bfseries\fs{10.5}, xshift=-6.75pt},
]
\addplot[cir, mark size=3.75pt, forget plot] coordinates {
(0,36.7)(0,34.0)(0,31.7)(-0.167,29.4)(0.163,28.2)(0,26.0)(-0.167,24.2)(0.163,24.6)(0,20.6)(-0.167,19.9)(0.163,18.6)(0,15.6)};
\addplot[sqr, mark size=3.75pt, forget plot] coordinates {
(0.815,35.9)(0.935,35.0)(1.072,35.4)(1.199,35.2)(0.935,33.5)(1.072,32.8)(0.815,32.1)(0.935,31.6)(1.072,31.7)(1.199,30.5)(0.754,28.7)(0.87,28.55)(1,28.0)(1.127,28.4)(1.261,28.7)(0.935,27.0)(1.072,26.45)(0.815,25.65)(1.199,25.65)(1,23.1)(1,21.3)(0.935,19.2)(1.072,17.5)(1,14.8)(1,32.4)};
\addplot[tri, mark size=4.8pt, forget plot] coordinates {
(2,39.9)(2,35.1)(1.764,32.4)(2,31.9)(2.228,32.2)(2.116,30.3)(1.891,28.9)(1.891,27.6)(2.116,26.3)(2.228,23.1)(1.764,22.6)(2,22.7)(1.891,21.7)(2.116,20.7)(1.891,19.0)(2.116,18.75)};
\addplot[black, line width=1.3pt, forget plot] coordinates {(-0.337,25.8) (0.326,25.8)};
\addplot[black, line width=1.3pt, forget plot] coordinates {(0.663,28.1) (1.333,28.1)};
\addplot[black, line width=1.3pt, forget plot] coordinates {(1.663,27.15) (2.333,27.15)};
\addplot[black, mark=none, forget plot, eb={1pt}{11.4pt}] coordinates {(0,25.8) +=(0,6.5) -=(0,6.4)};
\addplot[black, mark=none, forget plot, eb={1pt}{11.4pt}] coordinates {(1,28.1) +=(0,5.8) -=(0,5.7)};
\addplot[black, mark=none, forget plot, eb={1pt}{11.4pt}] coordinates {(2,27.15) +=(0,6.25) -=(0,6.15)};
\node[font=\fs{11.2}, inner sep=0pt] at (axis cs:2.22,12.75) {p = 0.8910};
\end{axis}

\begin{scope}[every node/.style={inner sep=0pt}]
\node[font=\bfseries\fs{19}] at (35,42) {A};
\node[font=\bfseries\fs{19}] at (706,38) {B};
\node[font=\bfseries\fs{19}] at (35,439) {C};
\node[font=\bfseries\fs{19}] at (709,439) {D};
\node[font=\bfseries\fs{19}] at (33,823) {E};
\node[font=\bfseries\fs{19}] at (705,822) {F};
\node[rotate=90, font=\bfseries\fs{10.4}] at (58,210) {IgM (Arbitrary unit)};
\node[rotate=90, font=\bfseries\fs{10}] at (731,208) {IgG\ \ (Arbitrary unit)};
\node[rotate=90, font=\bfseries\fs{10}] at (61,597) {IgM (Arbitrary unit)};
\node[rotate=90, font=\bfseries\fs{8.7}] at (712,608) {IgG\ \ (Arbitrary unit)};
\node[rotate=90, font=\bfseries\fs{14.3}] at (167,976) {Ct-value - RT-qPCR};
\node[rotate=90, font=\bfseries\fs{11.7}] at (818,966) {Ct-value - RT-qPCR};
\node[font=\fs{14.7}] at (1038,1160) {Age};
\end{scope}
\end{tikzpicture}
\end{document}
